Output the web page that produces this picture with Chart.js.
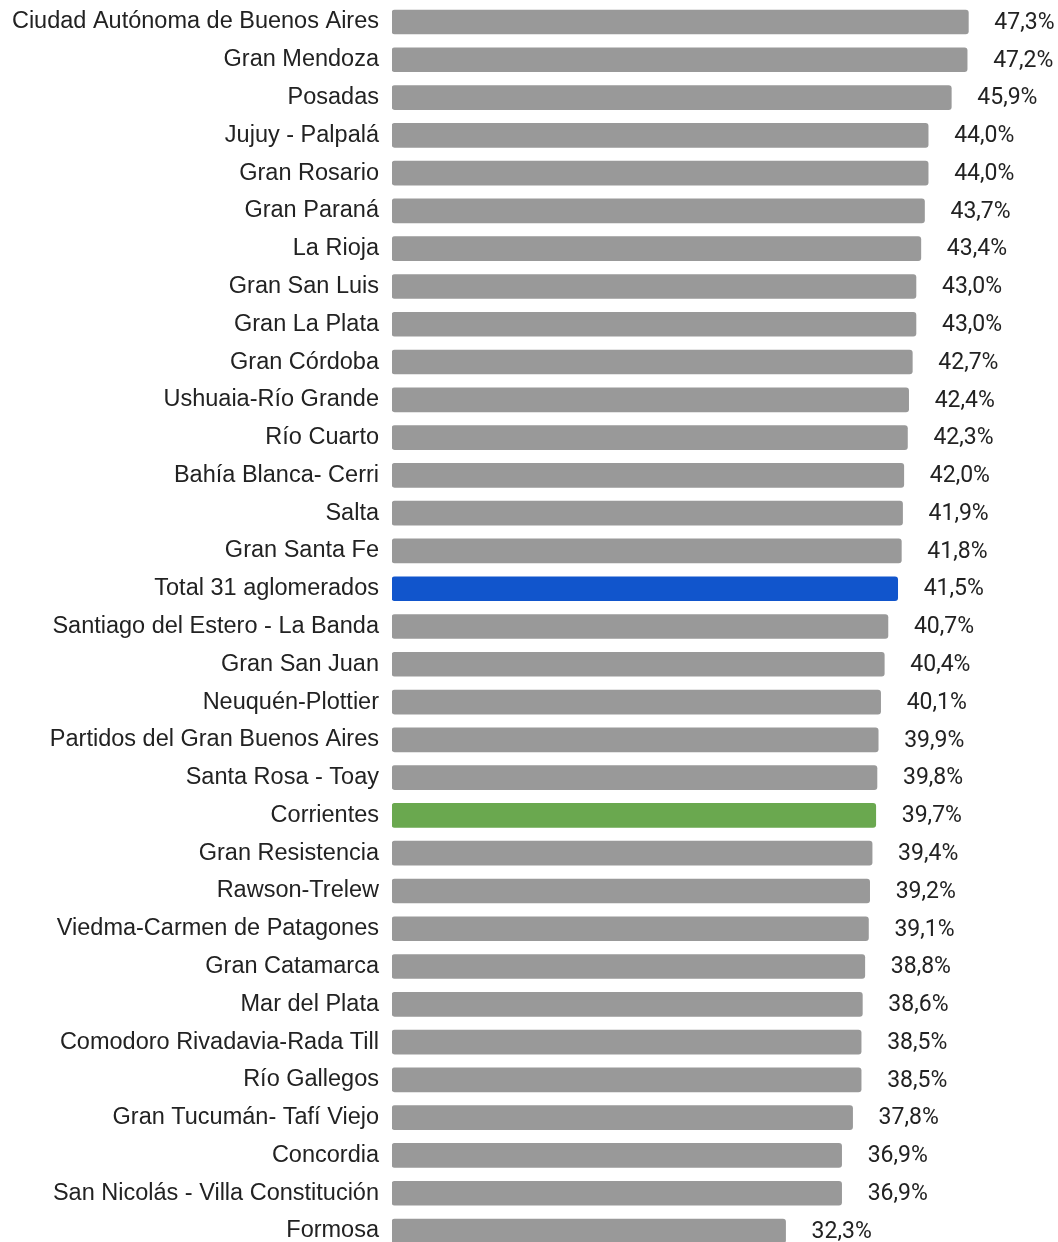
<!DOCTYPE html>
<html>
<head>
<meta charset="utf-8">
<script src="https://cdn.jsdelivr.net/npm/chart.js@4"></script>
<style>
  html, body { margin: 0; padding: 0; background: #fff; overflow: hidden; }
  #wrap { width: 1058px; height: 1301px; margin-top: -24px; position: relative; }
</style>
</head>
<body>
<div id="wrap"><canvas id="chart"></canvas></div>
<script>
const categories = [
  "Ciudad Autónoma de Buenos Aires", "Gran Mendoza", "Posadas", "Jujuy - Palpalá",
  "Gran Rosario", "Gran Paraná", "La Rioja", "Gran San Luis", "Gran La Plata",
  "Gran Córdoba", "Ushuaia-Río Grande", "Río Cuarto", "Bahía Blanca- Cerri", "Salta",
  "Gran Santa Fe", "Total 31 aglomerados", "Santiago del Estero - La Banda",
  "Gran San Juan", "Neuquén-Plottier", "Partidos del Gran Buenos Aires",
  "Santa Rosa - Toay", "Corrientes", "Gran Resistencia", "Rawson-Trelew",
  "Viedma-Carmen de Patagones", "Gran Catamarca", "Mar del Plata",
  "Comodoro Rivadavia-Rada Till", "Río Gallegos", "Gran Tucumán- Tafí Viejo",
  "Concordia", "San Nicolás - Villa Constitución", "Formosa"
];
const values = [
  47.3, 47.2, 45.9, 44.0, 44.0, 43.7, 43.4, 43.0, 43.0, 42.7, 42.4, 42.3, 42.0, 41.9,
  41.8, 41.5, 40.7, 40.4, 40.1, 39.9, 39.8, 39.7, 39.4, 39.2, 39.1, 38.8, 38.6,
  38.5, 38.5, 37.8, 36.9, 36.9, 32.3
];
const totalName = "Total 31 aglomerados";
const highlightName = "Corrientes";

const colors = categories.map(c =>
  c === totalName ? "#1155cc" : (c === highlightName ? "#6aa84f" : "#999999"));

const fmt = v => v.toFixed(1).replace(".", ",") + "%";

// data labels to the right of each bar
const valueLabels = {
  id: "valueLabels",
  afterDatasetsDraw(chart) {
    const ctx = chart.ctx;
    const meta = chart.getDatasetMeta(0);
    ctx.save();
    ctx.font = "23px Roboto";
    ctx.fillStyle = "#222222";
    ctx.textAlign = "left";
    ctx.textBaseline = "middle";
    meta.data.forEach((bar, i) => {
      ctx.fillText(fmt(values[i]), bar.x + 26, bar.y + 1);
    });
    ctx.restore();
  }
};

new Chart(document.getElementById("chart"), {
  type: "bar",
  data: {
    labels: categories,
    datasets: [{
      data: values,
      backgroundColor: colors,
      barThickness: 24,
      borderRadius: 3,
      borderSkipped: false
    }]
  },
  options: {
    indexAxis: "y",
    responsive: true,
    maintainAspectRatio: false,
    animation: false,
    layout: { padding: { left: 0, right: 8, top: 0, bottom: 0 } },
    plugins: {
      legend: { display: false },
      tooltip: { enabled: false }
    },
    scales: {
      x: {
        display: false,
        min: 0,
        max: 54
      },
      y: {
        grid: { display: false, drawTicks: false },
        border: { display: false },
        ticks: {
          color: "#222222",
          font: { family: "'Liberation Sans', Arial", size: 23.5 },
          padding: 13,
          autoSkip: false
        },
        afterFit(scale) { scale.width = 392; }
      }
    }
  },
  plugins: [valueLabels]
});
</script>
</body>
</html>
